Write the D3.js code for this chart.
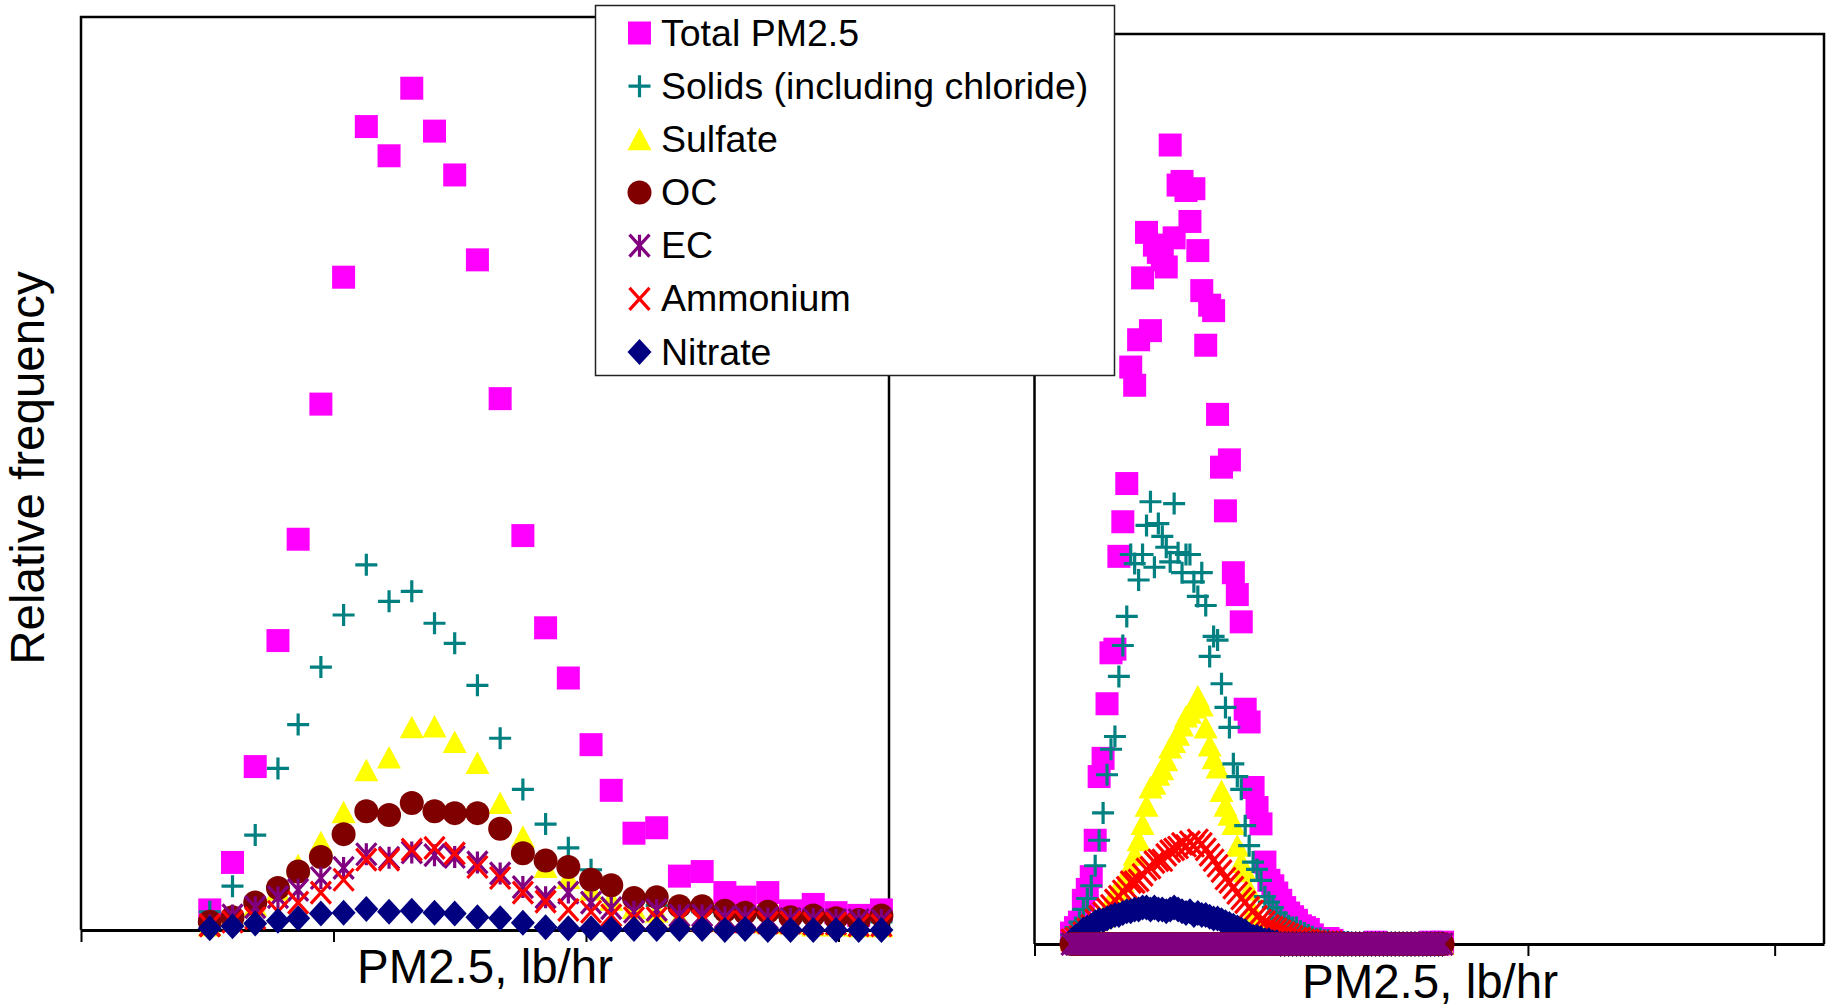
<!DOCTYPE html>
<html>
<head>
<meta charset="utf-8">
<script src="https://cdn.jsdelivr.net/npm/d3@7"></script>
<style>
body { margin: 0; background: #fff; }
text { font-family: "Liberation Sans", Arial, sans-serif; fill: #000; }
</style>
</head>
<body>
<script>
// series in legend order
var names = ["Total PM2.5", "Solids (including chloride)", "Sulfate", "OC", "EC", "Ammonium", "Nitrate"];
var colors = ["#ff00ff", "#008080", "#ffff00", "#800000", "#800080", "#ff0000", "#000080"];
var shapes = ["square", "plus", "triangle", "circle", "asterisk", "cross", "diamond"];

var xTicks = [0, 1, 2, 3];

// left panel: PM2.5 bins (lb/hr) and relative frequency (%)
var leftBins = [0.51, 0.60, 0.69, 0.78, 0.86, 0.95, 1.04, 1.13, 1.22, 1.31, 1.40, 1.48, 1.57, 1.66, 1.75, 1.84,
  1.93, 2.02, 2.10, 2.19, 2.28, 2.37, 2.46, 2.55, 2.63, 2.72, 2.81, 2.90, 2.99, 3.08, 3.17];
var leftTotal = [0.22, 0.74, 1.79, 3.17, 4.28, 5.76, 7.15, 8.80, 8.48, 9.22, 8.75, 8.27, 7.34, 5.82, 4.32, 3.31,
  2.76, 2.03, 1.53, 1.06, 1.12, 0.59, 0.64, 0.41, 0.36, 0.41, 0.21, 0.28, 0.19, 0.16, 0.22];
var leftSolids = [0.20, 0.48, 1.04, 1.77, 2.25, 2.88, 3.45, 4.00, 3.60, 3.71, 3.36, 3.14, 2.68, 2.10, 1.54, 1.16,
  0.90, 0.66, 0.46, 0.35, 0.27, 0.22, 0.20, 0.16, 0.15, 0.14, 0.12, 0.11, 0.10, 0.09, 0.09];
var leftSulfate = [0.05, 0.16, 0.27, 0.44, 0.71, 0.96, 1.29, 1.75, 1.89, 2.22, 2.23, 2.06, 1.83, 1.39, 1.02, 0.69,
  0.57, 0.44, 0.33, 0.24, 0.20, 0.13, 0.11, 0.10, 0.09, 0.08, 0.07, 0.05, 0.05, 0.04, 0.04];
var leftOC = [0.09, 0.14, 0.30, 0.46, 0.64, 0.80, 1.05, 1.30, 1.26, 1.39, 1.30, 1.28, 1.28, 1.11, 0.84, 0.76,
  0.69, 0.55, 0.49, 0.35, 0.36, 0.26, 0.26, 0.21, 0.19, 0.20, 0.14, 0.16, 0.13, 0.11, 0.16];
var leftEC = [0.05, 0.16, 0.25, 0.36, 0.44, 0.57, 0.68, 0.83, 0.79, 0.85, 0.82, 0.80, 0.74, 0.62, 0.47, 0.36,
  0.41, 0.30, 0.24, 0.20, 0.22, 0.16, 0.16, 0.14, 0.14, 0.13, 0.12, 0.12, 0.11, 0.11, 0.11];
var leftAmmonium = [0.05, 0.09, 0.13, 0.20, 0.30, 0.41, 0.55, 0.77, 0.77, 0.88, 0.90, 0.84, 0.69, 0.57, 0.41, 0.31,
  0.22, 0.20, 0.16, 0.13, 0.13, 0.11, 0.10, 0.09, 0.09, 0.08, 0.08, 0.07, 0.07, 0.05, 0.05];
var leftNitrate = [0.02, 0.04, 0.07, 0.10, 0.13, 0.18, 0.19, 0.23, 0.20, 0.21, 0.19, 0.18, 0.14, 0.13, 0.08, 0.03,
  0.02, 0.02, 0.01, 0.01, 0.01, 0.01, 0.01, 0.00, 0.01, 0.00, 0.00, 0.00, 0.00, 0.00, 0.00];

// right panel: finer bins
var rightBins = [0.150, 0.166, 0.182, 0.198, 0.214, 0.230, 0.246, 0.262, 0.278, 0.294,
  0.310, 0.326, 0.342, 0.358, 0.374, 0.390, 0.406, 0.422, 0.438, 0.454,
  0.470, 0.486, 0.502, 0.518, 0.534, 0.550, 0.566, 0.582, 0.598, 0.614,
  0.630, 0.646, 0.662, 0.678, 0.694, 0.710, 0.726, 0.742, 0.758, 0.774,
  0.790, 0.806, 0.822, 0.838, 0.854, 0.870, 0.886, 0.902, 0.918, 0.934,
  0.950, 0.966, 0.982, 0.998, 1.014, 1.030, 1.046, 1.062, 1.078, 1.094,
  1.110, 1.126, 1.142, 1.158, 1.174, 1.190, 1.206, 1.222, 1.238, 1.254,
  1.270, 1.286, 1.302, 1.318, 1.334, 1.350, 1.366, 1.382, 1.398, 1.414,
  1.430, 1.446, 1.462, 1.478, 1.494, 1.510, 1.526, 1.542, 1.558, 1.574,
  1.590, 1.606, 1.622, 1.638, 1.654];
var rightTotal = [0.06, 0.09, 0.12, 0.24, 0.30, 0.37, 0.57, 0.92, 1.02, 1.32,
  1.60, 1.62, 2.13, 2.32, 2.53, 3.17, 3.07, 3.32, 3.66, 3.91,
  3.37, 3.84, 3.80, 3.76, 3.72, 4.39, 3.88, 4.17, 4.19, 4.14,
  3.97, 4.15, 3.81, 3.59, 3.29, 3.51, 3.48, 2.91, 2.62, 2.38,
  2.66, 2.04, 1.92, 1.77, 1.29, 1.22, 0.86, 0.75, 0.66, 0.45,
  0.35, 0.32, 0.28, 0.24, 0.20, 0.17, 0.15, 0.13, 0.10, 0.09,
  0.08, 0.05, 0.03, 0.03, 0.03, 0.03, 0.02, 0, 0, 0,
  0, 0, 0, 0, 0, 0, 0, 0.01, 0, 0,
  0, 0, 0, 0, 0, 0, 0, 0, 0, 0,
  0, 0.01, 0, 0, 0.01];
var rightSolids = [0.05, 0.09, 0.12, 0.19, 0.25, 0.32, 0.43, 0.57, 0.72, 0.93,
  1.07, 1.14, 1.47, 1.64, 1.80, 2.14, 2.09, 2.00, 2.14, 2.30,
  2.43, 2.07, 2.31, 2.24, 2.18, 2.10, 2.42, 2.15, 2.04, 2.14,
  2.14, 1.99, 1.91, 2.04, 1.86, 1.58, 1.69, 1.67, 1.43, 1.30,
  1.19, 0.99, 0.92, 0.85, 0.65, 0.54, 0.45, 0.41, 0.35, 0.26,
  0.23, 0.20, 0.17, 0.14, 0.12, 0.10, 0.09, 0.09, 0.07, 0.06,
  0.05, 0.04, 0.03, 0.03, 0.02, 0.02, 0.01, 0.01, 0.01, 0.01,
  0.01, 0, 0, 0, 0, 0, 0, 0, 0, 0,
  0, 0, 0, 0, 0, 0, 0, 0, 0, 0,
  0, 0, 0, 0, 0];
var rightSulfate = [0.03, 0.04, 0.06, 0.08, 0.09, 0.11, 0.13, 0.14, 0.15, 0.18,
  0.22, 0.28, 0.30, 0.34, 0.37, 0.43, 0.49, 0.57, 0.66, 0.76,
  0.86, 0.88, 0.93, 0.96, 1.01, 1.08, 1.11, 1.15, 1.20, 1.25,
  1.27, 1.30, 1.36, 1.31, 1.19, 1.09, 1.02, 0.97, 0.84, 0.76,
  0.71, 0.66, 0.54, 0.45, 0.40, 0.30, 0.18, 0.14, 0.10, 0.08,
  0.06, 0.04, 0.03, 0.02, 0.02, 0.01, 0.01, 0.01, 0.01, 0,
  0, 0, 0, 0, 0, 0, 0, 0, 0, 0,
  0, 0, 0, 0, 0, 0, 0, 0, 0, 0,
  0, 0, 0, 0, 0, 0, 0, 0, 0, 0,
  0, 0, 0, 0, 0];
var rightOC = [0, 0, 0, 0, 0, 0, 0, 0, 0, 0, 0, 0, 0, 0, 0, 0, 0, 0, 0, 0,
  0, 0, 0, 0, 0, 0, 0, 0, 0, 0, 0, 0, 0, 0, 0, 0, 0, 0, 0, 0,
  0, 0, 0, 0, 0, 0, 0, 0, 0, 0, 0, 0, 0, 0, 0, 0, 0, 0, 0, 0,
  0, 0, 0, 0, 0, 0, 0, 0, 0, 0, 0, 0, 0, 0, 0, 0, 0, 0, 0, 0,
  0, 0, 0, 0, 0, 0, 0, 0, 0, 0, 0, 0, 0, 0, 0];
var rightEC = [0, 0, 0, 0, 0, 0, 0, 0, 0, 0, 0, 0, 0, 0, 0, 0, 0, 0, 0, 0,
  0, 0, 0, 0, 0, 0, 0, 0, 0, 0, 0, 0, 0, 0, 0, 0, 0, 0, 0, 0,
  0, 0, 0, 0, 0, 0, 0, 0, 0, 0, 0, 0, 0, 0, 0, 0, 0, 0, 0, 0,
  0, 0, 0, 0, 0, 0, 0, 0, 0, 0, 0, 0, 0, 0, 0, 0, 0, 0, 0, 0,
  0, 0, 0, 0, 0, 0, 0, 0, 0, 0, 0, 0, 0, 0, 0];
var rightAmmonium = [0.02, 0.03, 0.04, 0.06, 0.08, 0.10, 0.13, 0.15, 0.17, 0.19,
  0.21, 0.24, 0.26, 0.29, 0.31, 0.34, 0.34, 0.35, 0.38, 0.41,
  0.42, 0.45, 0.46, 0.46, 0.49, 0.51, 0.52, 0.53, 0.55, 0.54,
  0.56, 0.54, 0.57, 0.55, 0.52, 0.49, 0.46, 0.43, 0.40, 0.36,
  0.34, 0.31, 0.28, 0.25, 0.23, 0.20, 0.18, 0.15, 0.13, 0.12,
  0.10, 0.09, 0.08, 0.07, 0.06, 0.05, 0.04, 0.03, 0.03, 0.02,
  0.02, 0.01, 0.01, 0.01, 0.01, 0.01, 0.01, 0, 0, 0,
  0, 0, 0, 0, 0, 0, 0, 0, 0, 0,
  0, 0, 0, 0, 0, 0, 0, 0, 0, 0,
  0, 0, 0, 0, 0];
var rightNitrate = [0.02, 0.04, 0.05, 0.08, 0.09, 0.10, 0.12, 0.13, 0.13, 0.14,
  0.15, 0.16, 0.16, 0.17, 0.18, 0.18, 0.19, 0.19, 0.20, 0.20,
  0.19, 0.20, 0.19, 0.19, 0.18, 0.19, 0.20, 0.19, 0.18, 0.17,
  0.18, 0.16, 0.17, 0.16, 0.16, 0.15, 0.14, 0.14, 0.13, 0.12,
  0.11, 0.10, 0.09, 0.08, 0.07, 0.05, 0.04, 0.04, 0.03, 0.02,
  0.02, 0.01, 0.01, 0, 0, 0, 0, 0, 0, 0,
  0, 0, 0, 0, 0, 0, 0, 0, 0, 0,
  0, 0, 0, 0, 0, 0, 0, 0, 0, 0,
  0, 0, 0, 0, 0, 0, 0, 0, 0, 0,
  0, 0, 0, 0, 0];

var W = 1831, H = 1007;
var svg = d3.select('body').append('svg').attr('width', W).attr('height', H);

var symbolPath = {
  square: 'M-11.5,-11.5h23v23h-23z',
  triangle: 'M0,-11.5L12,11L-12,11Z',
  diamond: 'M0,-13L12,0L0,13L-12,0Z',
  plus: 'M-11,0H11M0,-11V11',
  asterisk: 'M0,-11V11M-10,-11L10,11M-10,11L10,-11',
  cross: 'M-10,-11L10,11M-10,11L10,-11'
};
var filled = {square: true, triangle: true, diamond: true};

function drawMarkers(g, pts, shape, color) {
  var sel = g.append('g').selectAll(null).data(pts).enter();
  if (shape === 'circle') {
    sel.append('circle')
      .attr('cx', function(d) { return d[0]; })
      .attr('cy', function(d) { return d[1]; })
      .attr('r', 12)
      .attr('fill', color);
  } else {
    sel.append('path')
      .attr('d', symbolPath[shape])
      .attr('transform', function(d) { return 'translate(' + d[0] + ',' + d[1] + ')'; })
      .attr('fill', filled[shape] ? color : 'none')
      .attr('stroke', filled[shape] ? 'none' : color)
      .attr('stroke-width', 3.2);
  }
}

function drawPlot(p) {
  var x = d3.scaleLinear().domain([0, 3.2]).range([p.left, p.right]);
  var y = d3.scaleLinear().domain([0, p.yMax]).range([p.bottom, p.top]);
  var g = svg.append('g');

  g.append('path')
    .attr('d', 'M' + p.left + ',' + p.bottom + 'V' + p.top + 'H' + p.right + 'V' + p.bottom)
    .attr('fill', 'none').attr('stroke', '#000').attr('stroke-width', 2.5);

  var ax = g.append('g')
    .attr('transform', 'translate(0,' + p.bottom + ')')
    .call(d3.axisBottom(x).tickValues(xTicks).tickSize(12).tickSizeOuter(0).tickFormat(''));
  ax.select('.domain').attr('stroke-width', 3);
  ax.selectAll('.tick line').attr('stroke-width', 2);

  p.order.forEach(function(s) {
    var vals = p.series[s];
    var pts = p.bins.map(function(b, i) { return [x(b), y(vals[i])]; });
    drawMarkers(g, pts, shapes[s], colors[s]);
  });

  g.append('text')
    .attr('x', p.titleX).attr('y', p.titleY)
    .attr('text-anchor', 'middle')
    .style('font-size', '47.5px')
    .text('PM2.5, lb/hr');
}

drawPlot({
  left: 81, right: 889, top: 17, bottom: 930, yMax: 10,
  bins: leftBins,
  series: [leftTotal, leftSolids, leftSulfate, leftOC, leftEC, leftAmmonium, leftNitrate],
  order: [0, 2, 1, 3, 4, 5, 6],
  titleX: 485, titleY: 983
});

drawPlot({
  left: 1034.5, right: 1824, top: 34, bottom: 944, yMax: 5,
  bins: rightBins,
  series: [rightTotal, rightSolids, rightSulfate, rightOC, rightEC, rightAmmonium, rightNitrate],
  order: [0, 2, 1, 5, 6, 3, 4],
  titleX: 1430, titleY: 998
});

svg.append('text')
  .attr('transform', 'translate(44,468) rotate(-90)')
  .attr('text-anchor', 'middle')
  .style('font-size', '47.5px')
  .text('Relative frequency');

// legend
var lg = svg.append('g');
lg.append('rect')
  .attr('x', 595.5).attr('y', 5.5).attr('width', 519).attr('height', 370)
  .attr('fill', '#fff').attr('stroke', '#222').attr('stroke-width', 1.5);
var rowY = d3.scaleLinear().domain([0, 6]).range([33, 352]);
names.forEach(function(n, i) {
  drawMarkers(lg, [[639.5, rowY(i)]], shapes[i], colors[i]);
  lg.append('text')
    .attr('x', 661).attr('y', rowY(i) + 12.5)
    .style('font-size', '37.5px')
    .text(n);
});
</script>
</body>
</html>
